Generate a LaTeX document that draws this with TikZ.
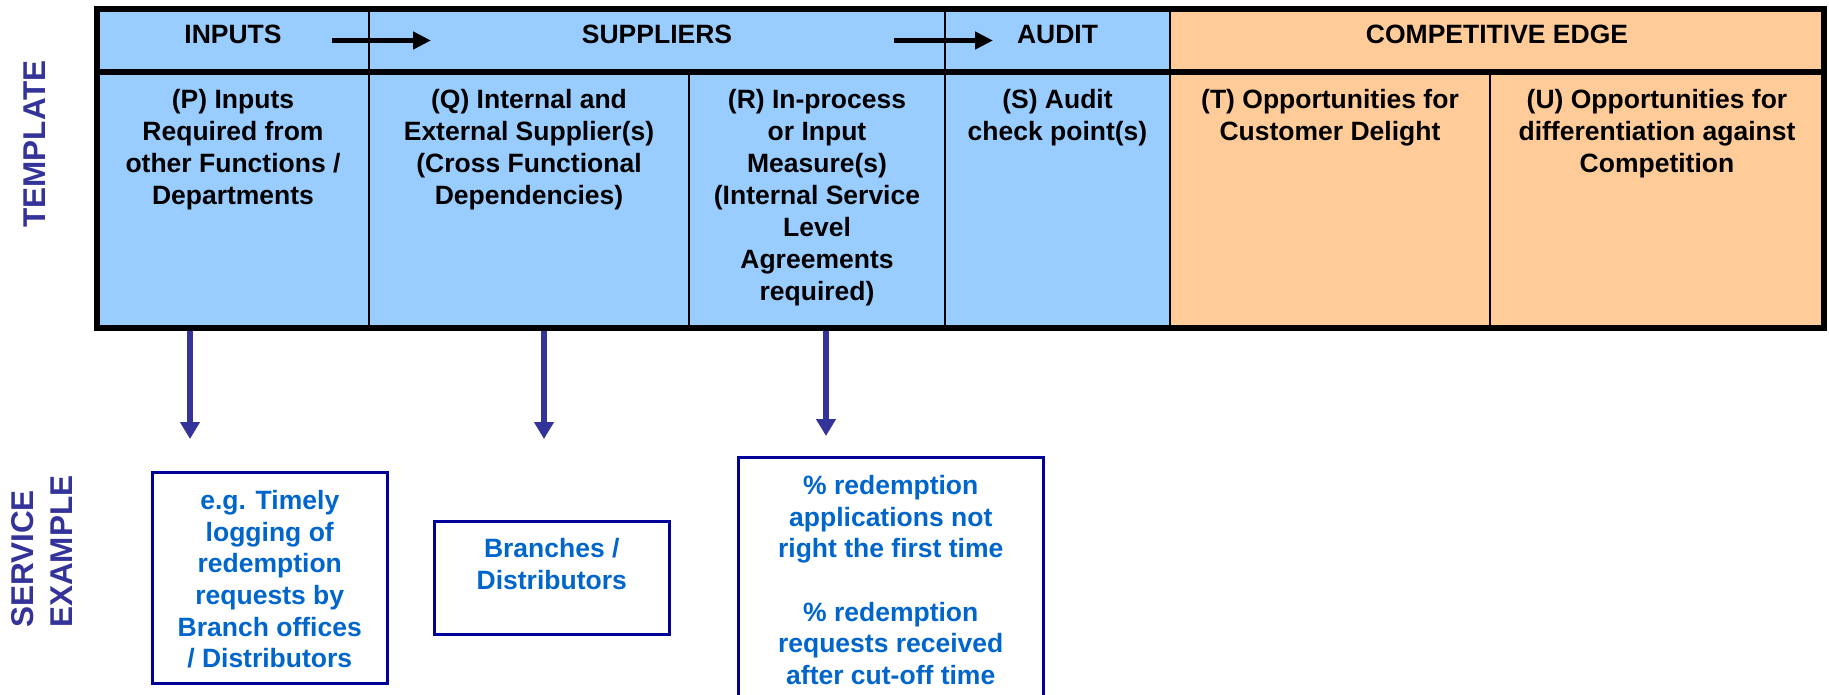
\documentclass[tikz,border=0pt]{standalone}
\usepackage{fontspec}
\setmainfont{Liberation Sans}
\usetikzlibrary{arrows.meta}
\definecolor{cellblue}{RGB}{153,204,255}
\definecolor{cellorange}{RGB}{255,204,153}
\definecolor{navyarrow}{RGB}{51,51,153}
\definecolor{boxedge}{RGB}{0,0,153}
\definecolor{boxtext}{RGB}{0,102,204}
\begin{document}
\begin{tikzpicture}[x=1pt,y=-1pt,
  cell/.style={anchor=north west, inner sep=0pt, outer sep=0pt, draw=none},
  bluecell/.style={cell, fill=cellblue},
  orangecell/.style={cell, fill=cellorange},
  hdtext/.style={anchor=base, inner sep=0pt, font=\fontsize{26.5}{32}\selectfont\bfseries},
  bodytext/.style={anchor=north, inner sep=0pt, align=center, font=\fontsize{26.5}{32}\selectfont\bfseries},
  thinrule/.style={line width=2.5pt, black},
  thickrule/.style={line width=5.5pt, black},
  flowarrow/.style={line width=5.5pt, black, -{Triangle[length=18pt,width=17pt]}},
  downarrow/.style={line width=5.5pt, navyarrow, -{Triangle[length=17pt,width=19pt]}},
  sidelabel/.style={rotate=90, inner sep=0pt, text=navyarrow, font=\fontsize{31.5}{39}\selectfont\bfseries},
  sebox/.style={draw=boxedge, line width=2.5pt, anchor=north west, inner sep=0pt, fill=none},
  setext/.style={anchor=north, inner sep=0pt, align=center, text=boxtext, font=\fontsize{26.5}{31.7}\selectfont\bfseries}
]
\clip (0,0) rectangle (1829,694);
\fill[white] (0,0) rectangle (1829,694);

% header cells
\node[bluecell, minimum width=272pt, minimum height=63pt] (Hin) at (97,9) {};
\node[bluecell, minimum width=576pt, minimum height=63pt] (Hsup) at (369,9) {};
\node[bluecell, minimum width=225pt, minimum height=63pt] (Haud) at (945,9) {};
\node[orangecell, minimum width=654pt, minimum height=63pt] (Hcomp) at (1170,9) {};
% body cells
\node[bluecell, minimum width=272pt, minimum height=256pt] (P) at (97,72) {};
\node[bluecell, minimum width=320pt, minimum height=256pt] (Q) at (369,72) {};
\node[bluecell, minimum width=256pt, minimum height=256pt] (R) at (689,72) {};
\node[bluecell, minimum width=225pt, minimum height=256pt] (S) at (945,72) {};
\node[orangecell, minimum width=320pt, minimum height=256pt] (T) at (1170,72) {};
\node[orangecell, minimum width=334pt, minimum height=256pt] (U) at (1490,72) {};

% down arrows (drawn before the border so the border covers their start)
\coordinate (d1e) at (190,439);
\coordinate (d2e) at (544,439);
\coordinate (d3e) at (826,436);
\draw[downarrow] (d1e |- P.south) -- (d1e);
\draw[downarrow] (d2e |- Q.south) -- (d2e);
\draw[downarrow] (d3e |- R.south) -- (d3e);

% rules
\draw[thinrule] (Hin.north east) -- (P.south east);
\draw[thinrule] (Q.north east) -- (Q.south east);
\draw[thinrule] (Hsup.north east) -- (R.south east);
\draw[thinrule] (Haud.north east) -- (S.south east);
\draw[thinrule] (T.north east) -- (T.south east);
\draw[thickrule] (Hin.south west) -- (Hcomp.south east);
\draw[thickrule] (Hin.north west) rectangle (U.south east);

% header texts
\node[hdtext] (tIn) at (233,43.5) {INPUTS};
\node[hdtext] (tSup) at (657,43.5) {SUPPLIERS};
\node[hdtext] (tAud) at (1057.5,43.5) {AUDIT};
\node[hdtext] (tComp) at (1497,43.5) {COMPETITIVE EDGE};

% header flow arrows
\coordinate (fa1s) at (332,40.5);
\coordinate (fa1e) at (431,40.5);
\coordinate (fa2s) at (894,40.5);
\coordinate (fa2e) at (993,40.5);
\draw[flowarrow] (fa1s) -- (fa1e);
\draw[flowarrow] (fa2s) -- (fa2e);

% body texts
\node[bodytext] (tP) at (233,89) {(P) Inputs\\Required from\\other Functions /\\Departments};
\node[bodytext] (tQ) at (529,89) {(Q) Internal and\\External Supplier(s)\\(Cross Functional\\Dependencies)};
\node[bodytext] (tR) at (817,89) {(R) In-process\\or Input\\Measure(s)\\(Internal Service\\Level\\Agreements\\required)};
\node[bodytext] (tS) at (1057.5,89) {(S) Audit\\check point(s)};
\node[bodytext] (tT) at (1330,89) {(T) Opportunities for\\Customer Delight};
\node[bodytext] (tU) at (1657,89) {(U) Opportunities for\\differentiation against\\Competition};

% side labels
\node[sidelabel] (lblT) at (34.5,144) {TEMPLATE};
\node[sidelabel, align=left, anchor=north west] (lblS) at (11,628) {SERVICE\\EXAMPLE};

% service example boxes
\node[sebox, minimum width=235pt, minimum height=211pt] (B1) at (151,471) {};
\node[setext] (B1t) at ([yshift=-19pt]B1.north) {e.g. Timely\\logging of\\redemption\\requests by\\Branch offices\\/ Distributors};
\node[sebox, minimum width=235pt, minimum height=113pt] (B2) at (433,520) {};
\node[setext] (B2t) at ([yshift=-18pt]B2.north) {Branches /\\Distributors};
\node[sebox, minimum width=305pt, minimum height=300pt] (B3) at (737,456) {};
\node[setext] (B3t) at ([yshift=-19pt]B3.north) {\% redemption\\applications not\\right the first time\\[31.7pt]\% redemption\\requests received\\after cut-off time};
\end{tikzpicture}
\end{document}
